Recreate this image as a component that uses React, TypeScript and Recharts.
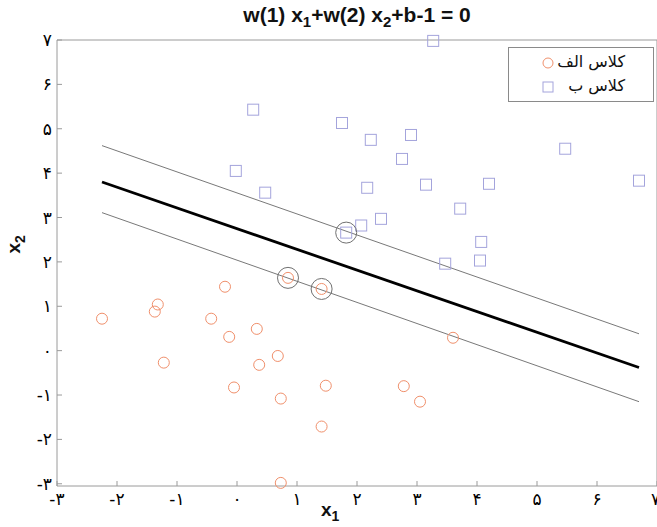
import { ScatterChart, Scatter, XAxis, YAxis } from 'recharts';

// class A (orange circles)
const classAX = [-2.25, -1.32, -1.37, -0.2, -0.43, -1.22, -0.13, 0.33, 0.68, 0.37, -0.05, 0.73, 1.41, 0.73, 1.48, 2.78, 3.05, 3.6, 0.85, 1.41];
const classAY = [0.72, 1.04, 0.88, 1.44, 0.72, -0.27, 0.31, 0.49, -0.12, -0.32, -0.83, -1.08, -1.71, -2.98, -0.79, -0.8, -1.15, 0.29, 1.64, 1.39];

// class B (blue squares)
const classBX = [0.27, -0.02, 0.47, 1.75, 2.23, 2.9, 2.75, 2.17, 3.15, 4.2, 5.47, 6.7, 3.72, 2.4, 2.07, 1.82, 4.07, 4.05, 3.47, 3.27];
const classBY = [5.43, 4.05, 3.56, 5.13, 4.75, 4.86, 4.32, 3.67, 3.74, 3.76, 4.55, 3.83, 3.2, 2.97, 2.82, 2.66, 2.45, 2.03, 1.96, 6.98];

// support vectors
const svX = [0.85, 1.41, 1.82];
const svY = [1.64, 1.39, 2.66];

// separating line and margins
const lineX = [-2.25, 6.7];
const mainY = [3.8, -0.38];
const upperY = [4.62, 0.38];
const lowerY = [3.11, -1.15];

const ticks = [-3, -2, -1, 0, 1, 2, 3, 4, 5, 6, 7];

const faDigits = '۰۱۲۳۴۵۶۷۸۹';
const toFa = (v: number) => {
  const s = String(Math.abs(v)).replace(/\d/g, (d) => faDigits[+d]);
  return v < 0 ? '-' + s : s;
};

const zip = (xs: number[], ys: number[]) => xs.map((x, i) => ({ x, y: ys[i] }));

const AXIS = '#9a9a9a';
const ORANGE = '#f0906c';
const BLUE = '#a4a4dc';

const Circle = ({ cx, cy }: any) => <circle cx={cx} cy={cy} r={5.5} fill="none" stroke={ORANGE} strokeWidth={1} />;
const Square = ({ cx, cy }: any) => <rect x={cx - 5.5} y={cy - 5.5} width={11} height={11} fill="none" stroke={BLUE} strokeWidth={1} />;
const SvRing = ({ cx, cy }: any) => <circle cx={cx} cy={cy} r={10.5} fill="none" stroke="#707070" strokeWidth={1} />;
const NoDot = () => <g />;

const tickStyle = { fill: '#000', fontSize: 17, fontFamily: 'DejaVu Sans' };

export default function App() {
  return (
    <div style={{ position: 'absolute', left: 0, top: 0, width: 657, height: 527, overflow: 'hidden', background: '#fff' }}>
      <ScatterChart width={660} height={527} margin={{ top: 0, right: 0, left: 0, bottom: 0 }}>
        <XAxis type="number" dataKey="x" domain={[-3, 7]} ticks={ticks} height={41} tickSize={-5} tickMargin={12}
          tickFormatter={toFa} tick={tickStyle} axisLine={{ stroke: AXIS }} tickLine={{ stroke: AXIS }} />
        <XAxis xAxisId="top" orientation="top" type="number" domain={[-3, 7]} ticks={ticks} height={40} tickSize={-5}
          tick={false} axisLine={{ stroke: AXIS }} tickLine={{ stroke: AXIS }} />
        <YAxis type="number" dataKey="y" domain={[-3.05, 7]} ticks={ticks} width={57} tickSize={-5} tickMargin={10}
          tickFormatter={toFa} tick={tickStyle} axisLine={{ stroke: AXIS }} tickLine={{ stroke: AXIS }} />
        <YAxis yAxisId="right" orientation="right" type="number" domain={[-3.05, 7]} ticks={ticks} width={3} tickSize={-5}
          tick={false} axisLine={{ stroke: AXIS }} tickLine={{ stroke: AXIS }} />

        <Scatter data={zip(lineX, upperY)} line={{ stroke: '#555', strokeWidth: 0.8 }} shape={NoDot} isAnimationActive={false} />
        <Scatter data={zip(lineX, lowerY)} line={{ stroke: '#555', strokeWidth: 0.8 }} shape={NoDot} isAnimationActive={false} />
        <Scatter data={zip(lineX, mainY)} line={{ stroke: '#000', strokeWidth: 2.8 }} shape={NoDot} isAnimationActive={false} />
        <Scatter data={zip(classAX, classAY)} shape={Circle} isAnimationActive={false} />
        <Scatter data={zip(classBX, classBY)} shape={Square} isAnimationActive={false} />
        <Scatter data={zip(svX, svY)} shape={SvRing} isAnimationActive={false} />
      </ScatterChart>

      <div style={{ position: 'absolute', left: 57, top: 3, width: 600, textAlign: 'center', fontFamily: 'Liberation Sans', fontWeight: 'bold', fontSize: 21, color: '#111' }}>
        w(1) x<sub style={{ fontSize: 15 }}>1</sub>+w(2) x<sub style={{ fontSize: 15 }}>2</sub>+b-1 = 0
      </div>

      <div style={{ position: 'absolute', left: 321, top: 499, fontFamily: 'Liberation Sans', fontWeight: 'bold', fontSize: 19, color: '#111' }}>
        x<sub style={{ fontSize: 14 }}>1</sub>
      </div>

      <div style={{ position: 'absolute', left: 6, top: 232, transform: 'rotate(-90deg)', fontFamily: 'Liberation Sans', fontWeight: 'bold', fontSize: 19, color: '#111' }}>
        x<sub style={{ fontSize: 14 }}>2</sub>
      </div>

      <div style={{ position: 'absolute', left: 508, top: 47, width: 144, height: 53, border: '1px solid #8a8a8a', background: '#fff', fontFamily: 'DejaVu Sans', fontSize: 16, color: '#111' }}>
        <svg style={{ position: 'absolute', left: 32, top: 8 }} width={14} height={40}>
          <circle cx={7} cy={7} r={5} fill="none" stroke={ORANGE} strokeWidth={1} />
          <rect x={2} y={26} width={10} height={10} fill="none" stroke={BLUE} strokeWidth={1} />
        </svg>
        <div style={{ position: 'absolute', right: 28, top: 2, direction: 'rtl', lineHeight: '24px', whiteSpace: 'nowrap' }}>کلاس الف</div>
        <div style={{ position: 'absolute', right: 28, top: 26, direction: 'rtl', lineHeight: '24px', whiteSpace: 'nowrap' }}>کلاس ب</div>
      </div>
    </div>
  );
}
